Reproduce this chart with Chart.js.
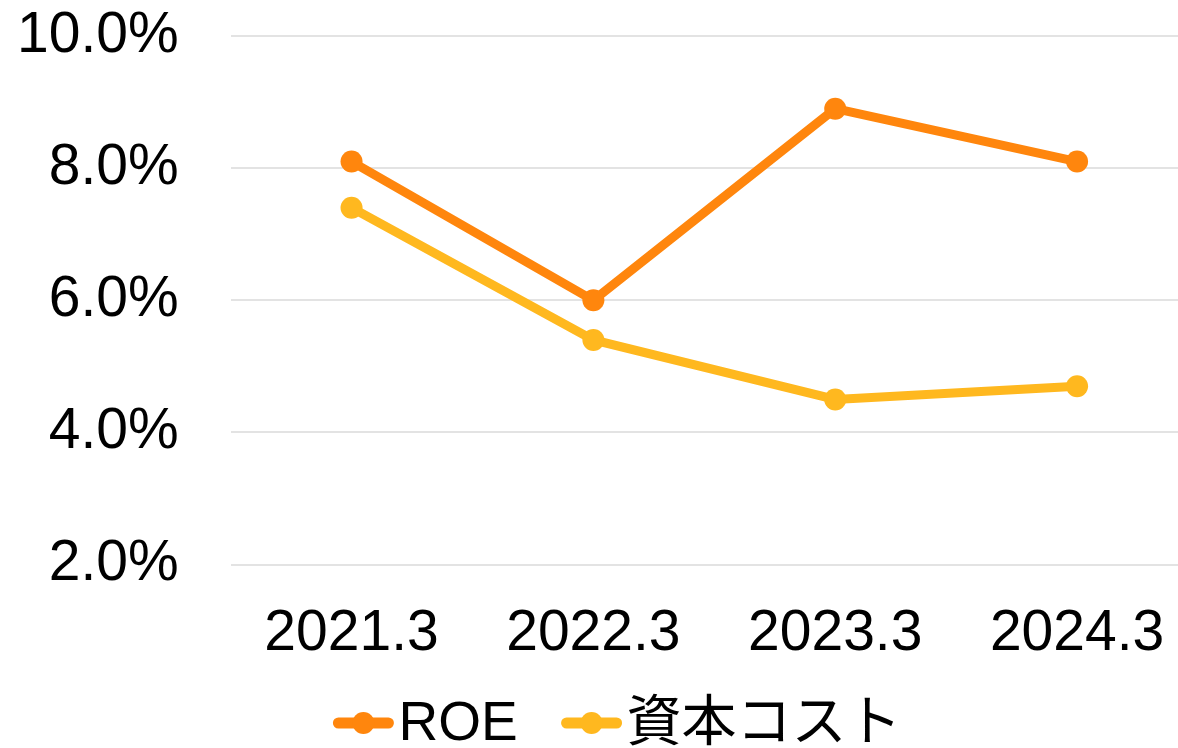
<!DOCTYPE html>
<html>
<head>
<meta charset="utf-8">
<script src="https://cdn.jsdelivr.net/npm/chart.js@4.4.1/dist/chart.umd.min.js"></script>
<style>
  html, body { margin: 0; padding: 0; background: #fff; overflow: hidden; }
  #wrap { width: 1209px; height: 748px; }
</style>
</head>
<body>
<div id="wrap"><canvas id="chart_roe"></canvas></div>
<script>
var labels = ['2021.3', '2022.3', '2023.3', '2024.3']
var roe = [8.1, 6.0, 8.9, 8.1]
var capitalCost = [7.4, 5.4, 4.5, 4.7]
var yTicks = [2, 4, 6, 8, 10]

var cores = ['#ff860d', '#ffb81f']
var fontFamily = "'Liberation Sans', Arial, 'Noto Sans CJK JP', sans-serif"

// legend drawn by hand: short line with a dot, then the label
var lineLegend = {
    id: 'lineLegend',
    afterDraw: function(chart) {
        var g = chart.ctx;
        var y = 723;
        var gap = 43;
        g.save();
        g.font = '55px ' + fontFamily;
        g.textBaseline = 'middle';
        g.textAlign = 'left';
        var widths = chart.data.datasets.map(function(ds) {
            return 62 + 4 + g.measureText(ds.label).width;
        });
        var total = widths.reduce(function(a, b) { return a + b; }, 0) + gap * (widths.length - 1);
        var x = 617 - total / 2;
        chart.data.datasets.forEach(function(ds, i) {
            g.strokeStyle = ds.borderColor;
            g.fillStyle = ds.borderColor;
            g.lineWidth = 11;
            g.lineCap = 'round';
            g.beginPath();
            g.moveTo(x + 6, y);
            g.lineTo(x + 56, y);
            g.stroke();
            g.beginPath();
            g.arc(x + 31, y, 11, 0, Math.PI * 2);
            g.fill();
            g.fillStyle = '#000';
            g.fillText(ds.label, x + 66, y + 2);
            x += widths[i] + gap;
        });
        g.restore();
    }
};

var ctx = document.getElementById('chart_roe');

var chartRoe = new Chart(ctx, {
    type: 'line',
    data: {
        labels: labels,
        datasets: [{
            label: 'ROE',
            data: roe,
            borderColor: cores[0],
            backgroundColor: cores[0],
            borderWidth: 9,
            pointRadius: 11,
            pointHoverRadius: 11,
            pointBorderWidth: 0,
            fill: false
        }, {
            label: '資本コスト',
            data: capitalCost,
            borderColor: cores[1],
            backgroundColor: cores[1],
            borderWidth: 9,
            pointRadius: 11,
            pointHoverRadius: 11,
            pointBorderWidth: 0,
            fill: false
        }]
    },
    plugins: [lineLegend],
    options: {
        responsive: true,
        maintainAspectRatio: false,
        animation: false,
        layout: {
            padding: { left: 17, right: 0, top: 36, bottom: 80 }
        },
        plugins: {
            tooltip: { enabled: false },
            legend: { display: false }
        },
        scales: {
            y: {
                min: 2,
                max: 10,
                afterBuildTicks: function(axis) {
                    axis.ticks = yTicks.map(function(v) { return { value: v }; });
                },
                border: { display: false },
                grid: { color: '#e3e3e3', lineWidth: 2, drawTicks: true, tickLength: 52, tickColor: 'rgba(0,0,0,0)' },
                ticks: {
                    padding: 0,
                    color: '#000',
                    font: { family: fontFamily, size: 57 },
                    callback: function(value) { return value.toFixed(1) + '%'; }
                }
            },
            x: {
                offset: true,
                border: { display: false },
                grid: { display: true, color: 'rgba(0,0,0,0)', drawTicks: true, tickLength: 35, tickColor: 'rgba(0,0,0,0)' },
                ticks: {
                    padding: 0,
                    maxRotation: 0,
                    color: '#000',
                    font: { family: fontFamily, size: 57 }
                }
            }
        }
    }
});
</script>
</body>
</html>
